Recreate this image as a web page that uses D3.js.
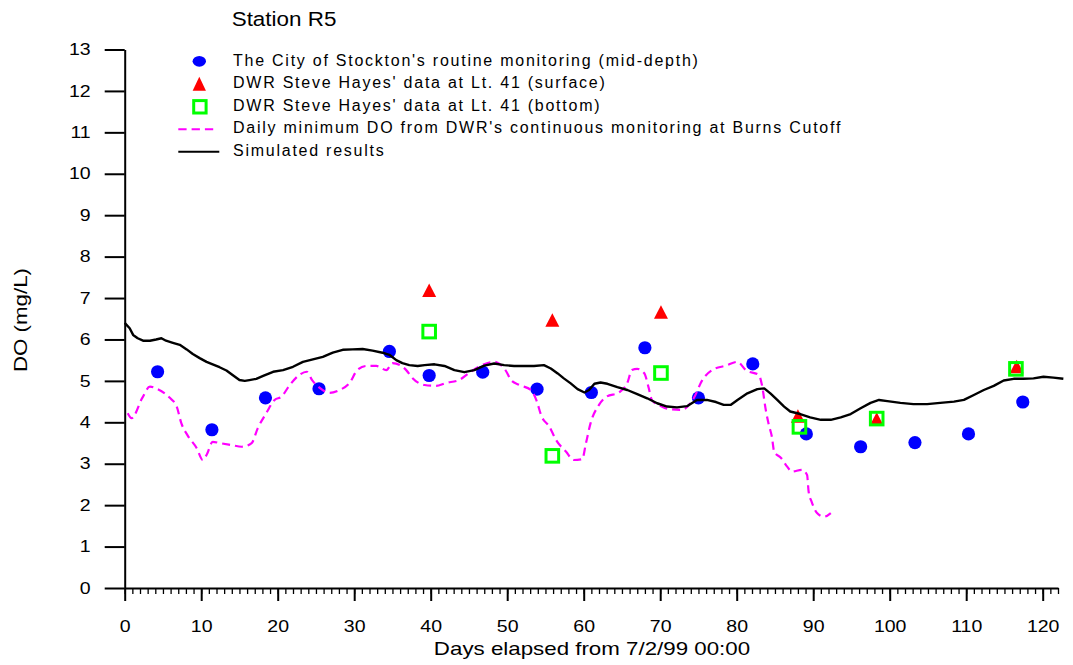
<!DOCTYPE html>
<html>
<head>
<meta charset="utf-8">
<script src="https://cdn.jsdelivr.net/npm/d3@7"></script>
<style>
  body { margin: 0; background: #fff; }
  svg { display: block; }
  text { font-family: "Liberation Sans", Arial, Helvetica, sans-serif; fill: #000; }
</style>
</head>
<body>
<svg id="chart" width="1073" height="665"></svg>
<script>
// City of Stockton routine monitoring (mid-depth)
const cityDays = [4.3, 11.4, 18.4, 25.4, 34.6, 39.8, 46.8, 53.9, 61.0, 68.0, 75.0, 82.1, 89.1, 96.2, 103.3, 110.3, 117.4];
const cityDO   = [5.22, 3.82, 4.59, 4.81, 5.71, 5.13, 5.21, 4.80, 4.72, 5.80, 4.59, 5.41, 3.72, 3.41, 3.51, 3.72, 4.49];

// DWR Steve Hayes' data at Lt. 41 (surface)
const surfDays = [39.8, 55.9, 70.1, 88.0, 98.3, 116.6];
const surfDO   = [7.19, 6.47, 6.66, 4.15, 4.08, 5.35];

// DWR Steve Hayes' data at Lt. 41 (bottom)
const bottDays = [39.8, 55.9, 70.1, 88.2, 98.3, 116.5];
const bottDO   = [6.19, 3.19, 5.19, 3.89, 4.09, 5.29];

// Daily minimum DO, Burns Cutoff continuous monitoring
const minDays = [0.4, 0.9, 2.3, 3.3, 4.3, 5.9, 6.8, 7.4, 8.2, 9.4, 10.2, 10.7, 11.5, 12.4, 14.0, 15.3, 16.6, 17.4, 18.5, 19.6,
                 20.5, 21.5, 22.8, 23.8, 24.5, 25.5, 26.8, 28.1, 29.4, 30.4, 31.6, 32.9, 34.2, 35.0, 36.8, 37.6, 39.2, 40.7, 42.0, 43.7,
                 45.0, 46.3, 48.3, 49.2, 49.9, 50.5, 51.6, 53.1, 53.8, 54.5, 55.5, 56.4, 57.7, 58.7, 59.8, 60.3, 60.9, 62.0, 63.0, 64.6,
                 65.7, 66.3, 67.0, 67.9, 68.5, 68.9, 69.8, 71.1, 72.8, 74.4, 75.5, 76.8, 78.6, 80.1, 81.2, 82.9, 83.3, 83.8, 84.2, 84.6,
                 84.9, 85.8, 86.6, 87.2, 88.5, 89.2, 89.4, 89.8, 90.5, 91.4, 92.3];
const minDO   = [4.22, 4.10, 4.59, 4.86, 4.80, 4.59, 4.38, 3.98, 3.69, 3.38, 3.09, 3.21, 3.53, 3.50, 3.45, 3.41, 3.50, 3.86, 4.22, 4.54,
                 4.62, 4.88, 5.14, 5.22, 5.02, 4.83, 4.71, 4.78, 4.95, 5.26, 5.36, 5.36, 5.26, 5.43, 5.26, 5.07, 4.90, 4.88, 4.95, 5.02,
                 5.19, 5.34, 5.46, 5.38, 5.22, 5.02, 4.90, 4.78, 4.54, 4.14, 3.90, 3.57, 3.29, 3.09, 3.11, 3.50, 3.98, 4.42, 4.62, 4.72,
                 4.95, 5.26, 5.29, 5.19, 4.83, 4.54, 4.42, 4.32, 4.30, 4.59, 5.02, 5.26, 5.37, 5.46, 5.26, 5.14, 4.90, 4.30, 3.94, 3.65,
                 3.29, 3.14, 2.93, 2.81, 2.85, 2.73, 2.33, 2.08, 1.81, 1.72, 1.81];

// Simulated results
const simDays = [0, 0.65, 1.1, 1.7, 2.4, 3.3, 4.1, 4.8, 5.4, 6.3, 7.2, 8.1, 8.9, 9.8, 10.7, 11.5, 12.4, 13.3, 14.1, 15.0,
                 15.7, 16.3, 17.2, 18.1, 19.4, 20.7, 22.0, 23.3, 24.6, 25.9, 27.2, 28.5, 29.8, 31.1, 32.4, 33.7, 34.6, 35.5, 36.3, 37.2,
                 38.3, 39.2, 40.5, 41.8, 43.1, 44.4, 45.7, 47.0, 48.3, 49.6, 50.9, 52.2, 53.5, 54.8, 55.7, 56.6, 57.4, 58.3, 59.2, 60.1,
                 60.7, 61.4, 62.2, 63.1, 64.4, 65.7, 67.0, 68.3, 69.6, 70.9, 72.2, 73.5, 74.8, 76.1, 77.3, 78.3, 79.2, 80.1, 81.4, 82.7,
                 83.6, 84.4, 85.3, 86.2, 87.0, 88.3, 89.6, 91.0, 92.3, 93.6, 94.9, 96.2, 97.5, 98.6, 99.7, 101.4, 103.1, 104.9, 106.6, 108.4,
                 109.7, 111.0, 112.3, 113.6, 114.9, 116.2, 117.5, 118.8, 120.1, 121.4, 122.7];
const simDO   = [6.40, 6.27, 6.11, 6.03, 5.97, 5.97, 6.00, 6.03, 5.97, 5.92, 5.87, 5.76, 5.65, 5.55, 5.46, 5.40, 5.33, 5.25, 5.14, 5.02,
                 5.00, 5.02, 5.05, 5.12, 5.22, 5.26, 5.34, 5.46, 5.52, 5.58, 5.68, 5.75, 5.76, 5.77, 5.73, 5.68, 5.63, 5.50, 5.43, 5.38,
                 5.36, 5.38, 5.40, 5.36, 5.26, 5.21, 5.26, 5.37, 5.42, 5.38, 5.36, 5.36, 5.36, 5.38, 5.30, 5.18, 5.06, 4.94, 4.80, 4.72,
                 4.78, 4.93, 4.96, 4.93, 4.85, 4.78, 4.68, 4.58, 4.46, 4.38, 4.36, 4.39, 4.54, 4.54, 4.49, 4.42, 4.42, 4.54, 4.70, 4.80,
                 4.82, 4.70, 4.54, 4.38, 4.26, 4.20, 4.12, 4.06, 4.06, 4.12, 4.20, 4.34, 4.47, 4.54, 4.51, 4.47, 4.44, 4.44, 4.47, 4.50,
                 4.54, 4.66, 4.78, 4.88, 5.01, 5.05, 5.05, 5.06, 5.10, 5.08, 5.05];

const xTicks = d3.range(0, 121, 10);
const xMinorTicks = d3.range(0, 123, 1);
const yTicks = d3.range(0, 14, 1);

const legendLabels = [
  "The City of Stockton's routine monitoring (mid-depth)",
  "DWR Steve Hayes' data at Lt. 41 (surface)",
  "DWR Steve Hayes' data at Lt. 41 (bottom)",
  "Daily minimum DO from DWR's continuous monitoring at Burns Cutoff",
  "Simulated results"
];

const svg = d3.select("#chart");
const x = d3.scaleLinear().domain([0, 122]).range([124.7, 124.7 + 122 * 7.65]);
const y = d3.scaleLinear().domain([0, 13]).range([588, 49.5]);

const WIDE = 1.22; // horizontal stretch of the lettering

// ---- Axes ----
const gxMinor = svg.append("g").attr("transform", `translate(0,${y(0)})`)
  .call(d3.axisBottom(x).tickValues(xMinorTicks).tickSize(6).tickSizeOuter(0).tickFormat(""));
gxMinor.select(".domain").remove();
gxMinor.selectAll(".tick line").attr("stroke", "#000").attr("stroke-width", 1.3);

const gx = svg.append("g").attr("transform", `translate(0,${y(0)})`)
  .call(d3.axisBottom(x).tickValues(xTicks).tickSize(13).tickSizeOuter(0).tickFormat(d3.format("d")));
gx.select(".domain").attr("stroke", "#000").attr("stroke-width", 2);
gx.selectAll(".tick line").attr("stroke", "#000").attr("stroke-width", 2);
gx.selectAll(".tick text")
  .attr("y", 0).attr("dy", 0)
  .attr("transform", `translate(0,43.7) scale(${WIDE},1)`)
  .style("font-size", "16px").style("font-family", null);

const gy = svg.append("g").attr("transform", `translate(${x(0)},0)`)
  .call(d3.axisLeft(y).tickValues(yTicks).tickSize(20).tickSizeOuter(0).tickFormat(d3.format("d")));
gy.select(".domain").attr("stroke", "#000").attr("stroke-width", 2);
gy.selectAll(".tick line").attr("stroke", "#000").attr("stroke-width", 2);
gy.selectAll(".tick text")
  .attr("x", 0).attr("dy", "0.32em")
  .attr("transform", `translate(-34,0) scale(${WIDE},1)`)
  .style("font-size", "16px").style("font-family", null);

// ---- Titles ----
svg.append("text")
  .attr("transform", `translate(231.7,26) scale(1.15,1)`)
  .style("font-size", "19.5px")
  .text("Station R5");

svg.append("text")
  .attr("transform", `translate(592,655) scale(1.24,1)`)
  .attr("text-anchor", "middle")
  .style("font-size", "18px")
  .text("Days elapsed from 7/2/99 00:00");

svg.append("text")
  .attr("transform", `translate(27,320) rotate(-90) scale(1.24,1)`)
  .attr("text-anchor", "middle")
  .style("font-size", "18px")
  .text("DO (mg/L)");

// ---- Marks ----
const triPath = (w, h) => `M0,${-h / 2}L${w / 2},${h / 2}L${-w / 2},${h / 2}Z`;

svg.append("g").selectAll("circle")
  .data(cityDays.map((d, i) => [d, cityDO[i]]))
  .join("circle")
  .attr("cx", d => x(d[0])).attr("cy", d => y(d[1]))
  .attr("r", 6.6).attr("fill", "#0000ff");

svg.append("g").selectAll("path")
  .data(surfDays.map((d, i) => [d, surfDO[i]]))
  .join("path")
  .attr("transform", d => `translate(${x(d[0])},${y(d[1])})`)
  .attr("d", triPath(14, 13.5)).attr("fill", "#ff0000");

svg.append("g").selectAll("rect")
  .data(bottDays.map((d, i) => [d, bottDO[i]]))
  .join("rect")
  .attr("x", d => x(d[0]) - 6.3).attr("y", d => y(d[1]) - 6.3)
  .attr("width", 12.6).attr("height", 12.6)
  .attr("fill", "none").attr("stroke", "#00ff00").attr("stroke-width", 3);

const lineGen = d3.line().x(d => x(d[0])).y(d => y(d[1])).curve(d3.curveMonotoneX);

svg.append("path")
  .datum(minDays.map((d, i) => [d, minDO[i]]))
  .attr("d", lineGen)
  .attr("fill", "none").attr("stroke", "#ff00ff").attr("stroke-width", 2.2)
  .attr("stroke-dasharray", "8,5");

svg.append("path")
  .datum(simDays.map((d, i) => [d, simDO[i]]))
  .attr("d", d3.line().x(d => x(d[0])).y(d => y(d[1])))
  .attr("fill", "none").attr("stroke", "#000").attr("stroke-width", 2.4)
  .attr("stroke-linejoin", "round");

// ---- Legend ----
const legend = svg.append("g");
const rowY = [61.3, 83.7, 106.8, 129.3, 151.7];
const baseY = [66, 88.3, 110.7, 133.3, 156];

legend.append("ellipse").attr("cx", 199.3).attr("cy", rowY[0]).attr("rx", 6.7).attr("ry", 5.4).attr("fill", "#0000ff");
legend.append("path").attr("transform", `translate(199.3,${rowY[1]})`).attr("d", triPath(13.3, 14)).attr("fill", "#ff0000");
legend.append("rect").attr("x", 199.9 - 6.2).attr("y", rowY[2] - 6.2).attr("width", 12.4).attr("height", 12.4)
  .attr("fill", "none").attr("stroke", "#00ff00").attr("stroke-width", 3);
legend.append("line").attr("x1", 178.3).attr("x2", 215).attr("y1", rowY[3]).attr("y2", rowY[3])
  .attr("stroke", "#ff00ff").attr("stroke-width", 2).attr("stroke-dasharray", "8.3,5");
legend.append("line").attr("x1", 178.3).attr("x2", 219.3).attr("y1", rowY[4]).attr("y2", rowY[4])
  .attr("stroke", "#000").attr("stroke-width", 2);

legend.selectAll("text.lbl")
  .data(legendLabels)
  .join("text")
  .attr("class", "lbl")
  .attr("x", 233).attr("y", (d, i) => baseY[i])
  .style("font-size", "16px")
  .style("letter-spacing", "1.75px")
  .text(d => d);
</script>
</body>
</html>
